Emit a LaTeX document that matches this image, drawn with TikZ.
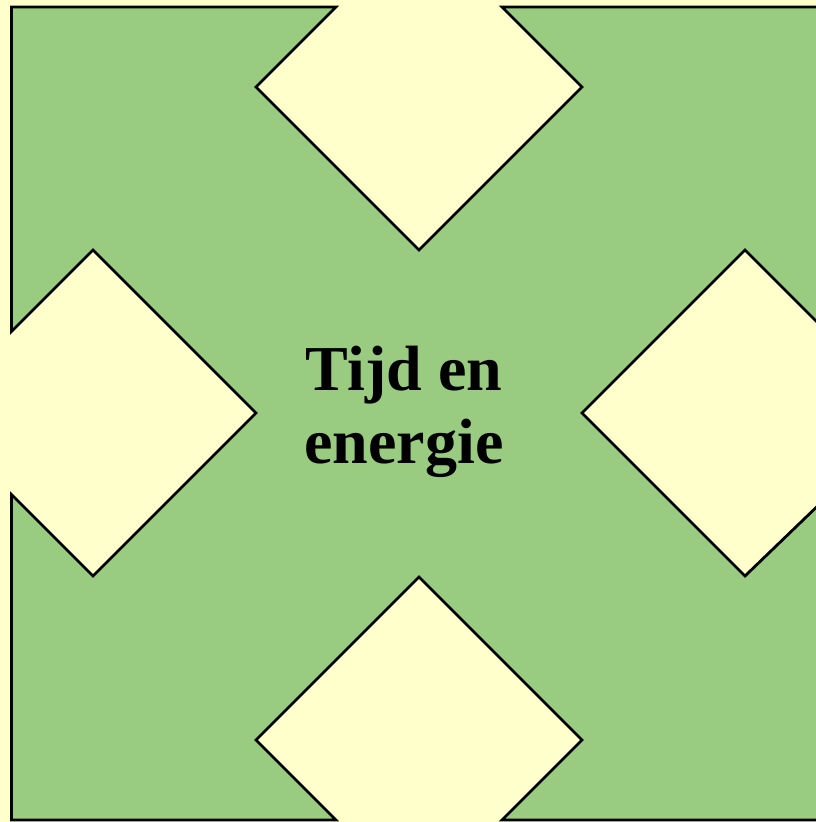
\documentclass[tikz,border=0pt]{standalone}
\usepackage{fontspec}
\setmainfont{Liberation Serif}
\definecolor{bgyellow}{HTML}{FFFFCC}
\definecolor{fieldgreen}{HTML}{99CC80}
\tikzset{
  field/.style={fill=fieldgreen, draw=black, line width=2.8pt, line join=miter},
  title/.style={font=\fontsize{64}{73}\selectfont\bfseries, align=center, inner sep=0pt}
}
\begin{document}
\begin{tikzpicture}[x=1pt,y=-1pt]
\useasboundingbox[fill=bgyellow] (0,0) rectangle (816,822);
\draw[field]
  (11.5,7) -- (336,7) -- (256,87) -- (419,250) -- (582,87) -- (502,7)
  -- (828,7) -- (828,333) -- (745,250) -- (582,413) -- (745,576) -- (828,496)
  -- (828,820) -- (502,820) -- (582,740) -- (419,577) -- (256,740) -- (336,820)
  -- (11.5,820) -- (11.5,494.5) -- (93,576) -- (256,413) -- (93,250) -- (11.5,331.5) -- cycle;
\node[title] (label) at (404,412) {Tijd en\\energie};
\end{tikzpicture}
\end{document}
